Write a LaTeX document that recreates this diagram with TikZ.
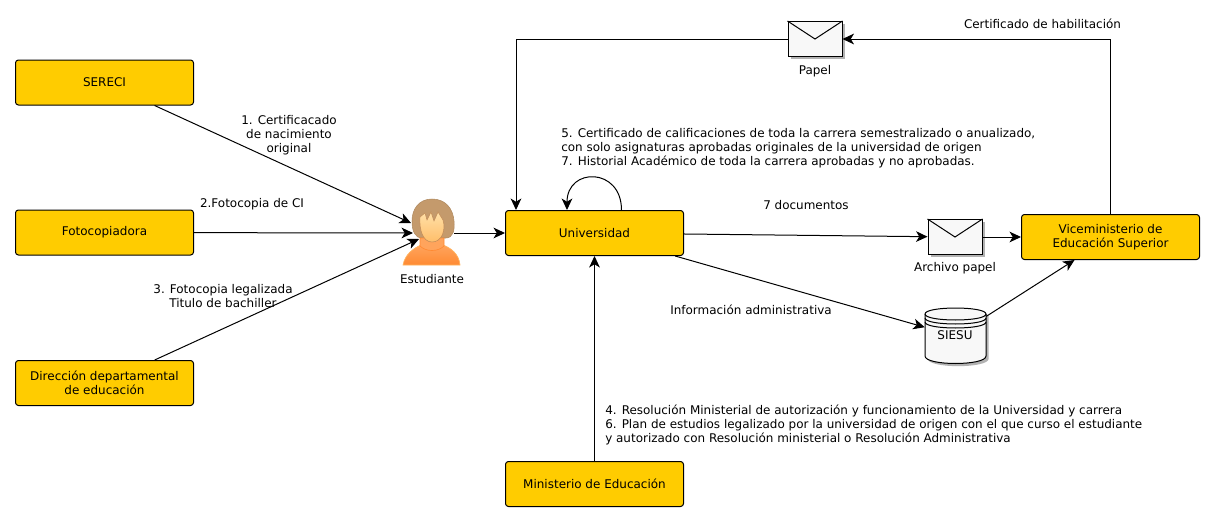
\documentclass[tikz,border=0pt]{standalone}
\usepackage{fontspec}
\setmainfont{DejaVu Sans}
\usetikzlibrary{arrows.meta,shadows}
\definecolor{caja}    {HTML}{FFCC00}
\definecolor{sobre}   {HTML}{F8F8F8}
\definecolor{pelo}    {HTML}{C49A6C}
\definecolor{pelodark}{HTML}{B08A60}
\definecolor{piel}    {HTML}{FFE0A8}
\definecolor{pielosc} {HTML}{FFBE6A}
\definecolor{ropa}    {HTML}{FF8A33}
\definecolor{ropaclar}{HTML}{FFA45C}
\tikzset{
  x=0.75pt, y=-0.75pt,
  every node/.style={font=\fontsize{8.98}{10.5}\selectfont, text=black},
  % --- nodes
  actor/.style  = {rectangle, rounded corners=2.2pt, draw=black, fill=caja, align=center,
                   minimum width=133.5pt, minimum height=33.75pt, inner sep=0pt, line width=0.75pt},
  sobrebox/.style = {rectangle, draw=black, fill=sobre, minimum width=40.5pt, minimum height=26.25pt,
                   inner sep=0pt, line width=0.75pt,
                   drop shadow={shadow xshift=2pt, shadow yshift=-2pt, opacity=0.3, fill=black}},
  hueco/.style  = {rectangle, minimum width=45.75pt, minimum height=42pt, inner sep=0pt},
  lbl/.style    = {align=center, inner sep=0pt},
  nota/.style   = {align=left, anchor=west, inner sep=0pt},
  % --- edges
  flecha/.style = {-{Stealth[length=8.6pt,width=8pt,inset=2.4pt]}, line width=0.75pt, draw=black},
}
\begin{document}
\begin{tikzpicture}
  \useasboundingbox (0,0) rectangle (1214,521);
  % actors
  \node[actor] (sereci)   at (104.5,82.5)  {SERECI};
  \node[actor] (fotocop)  at (104.5,232.5) {Fotocopiadora};
  \node[actor] (direccion) at (104.5,383) {Dirección departamental\\de educación};
  \node[actor] (universidad) at (594.5,233) {Universidad};
  \node[actor] (ministerio) at (594.5,484) {Ministerio de Educación};
  \node[actor] (vice) at (1110.5,237) {Viceministerio de\\Educación Superior};
  % envelopes
  \node[sobrebox] (papel)   at (815,39) {};
  \node[sobrebox] (archivo) at (955,237) {};
  \draw[line width=0.75pt] (papel.north west) -- (papel.center) -- (papel.north east);
  \draw[line width=0.75pt] (archivo.north west) -- (archivo.center) -- (archivo.north east);
  % SIESU
  \node[hueco] (siesu) at (955.5,336) {};
  \draw[fill=sobre, line width=0.75pt, drop shadow={shadow xshift=2pt, shadow yshift=-2pt, opacity=0.3, fill=black}]
    (925,314) .. controls (925,306) and (986,306) .. (986,314) -- (986,356)
    .. controls (986,366) and (925,366) .. (925,356) -- cycle;
  \draw[line width=0.75pt] (925,314) .. controls (925,322) and (986,322) .. (986,314);
  \draw[line width=0.75pt] (925,318) .. controls (925,326) and (986,326) .. (986,318);
  \draw[line width=0.75pt] (925,322) .. controls (925,330) and (986,330) .. (986,322);
  \node[lbl] (siesutxt) at (955,335.5) {SIESU};
  % person
  \node[hueco] (estudiante) at (432,233) {};
  \fill[pelo, draw=pelodark, line width=0.4pt]
    (432,199) .. controls (419,199) and (412,209) .. (412,221)
    .. controls (412,231) and (415,238) .. (422,238) -- (446,238)
    .. controls (453,238) and (455,230) .. (454,221)
    .. controls (453,208) and (445,199) .. (432,199) -- cycle;
  \draw[draw=pielosc!80!ropa, line width=0.5pt, top color=ropaclar, bottom color=ropa]
    (403,265) .. controls (405,254) and (414,248) .. (421,245) -- (443,245)
    .. controls (451,248) and (459,254) .. (460,265) -- cycle;
  \draw[draw=ropa, line width=0.5pt, fill=ropaclar]
    (420,238) -- (444,238) -- (444,246) .. controls (438,252) and (426,252) .. (420,246) -- cycle;
  \draw[draw=pelodark!80!ropa, line width=0.4pt, top color=piel, bottom color=pielosc]
    (420,217) -- (425,213) -- (427,220) -- (431,212) -- (434,221) -- (438,212) -- (443,220)
    .. controls (446,230) and (442,242) .. (432,242)
    .. controls (423,242) and (419,230) .. (420,217) -- cycle;
  \node[lbl] (estlbl) at (432,279.5) {Estudiante};
  % arrow ends
  \coordinate (esta) at (411,223);
  \coordinate (estb) at (413,233);
  \coordinate (estc) at (419,239);
  \coordinate (estd) at (454,233);
  \coordinate (unia) at (516,210);
  \coordinate (unib) at (621.5,210);
  \coordinate (unic) at (567,210);
  \draw[flecha] (sereci) -- (esta);
  \draw[flecha] (fotocop) -- (estb);
  \draw[flecha] (direccion) -- (estc);
  \draw[flecha] (estd) -- (universidad);
  \draw[flecha] (papel.west) -| (unia);
  \draw[flecha] (vice.north) |- (papel.east);
  \draw[flecha] (unib) .. controls +(0,-43) and +(0,-43) .. (unic);
  \draw[flecha] (universidad) -- (archivo);
  \draw[flecha] (archivo) -- (vice);
  \draw[flecha] (universidad) -- (siesu);
  \draw[flecha] (siesu) -- (vice);
  \draw[flecha] (ministerio) -- (universidad);
  % labels
  \node[lbl] (l1) at (289,135.5) {1. Certificacado\\de nacimiento\\original};
  \node[lbl] (l2) at (252,204) {2.Fotocopia de CI};
  \node[lbl] (l3) at (223,296.5) {3. Fotocopia legalizada\\Titulo de bachiller};
  \node[lbl] (l4) at (815,71.5) {Papel};
  \node[lbl] (l5) at (955,268) {Archivo papel};
  \node[lbl] (l6) at (1042.5,24) {Certificado de habilitación};
  \node[lbl] (l7) at (806,205.5) {7 documentos};
  \node[lbl] (l8) at (751,310) {Información administrativa};
  \node[nota] (n1) at (561,148.5) {5. Certificado de calificaciones de toda la carrera semestralizado o anualizado,\\con solo asignaturas aprobadas originales de la universidad de origen\\7. Historial Académico de toda la carrera aprobadas y no aprobadas.};
  \node[nota] (n2) at (605,425) {4. Resolución Ministerial de autorización y funcionamiento de la Universidad y carrera\\6. Plan de estudios legalizado por la universidad de origen con el que curso el estudiante\\y autorizado con Resolución ministerial o Resolución Administrativa};
\end{tikzpicture}
\end{document}
